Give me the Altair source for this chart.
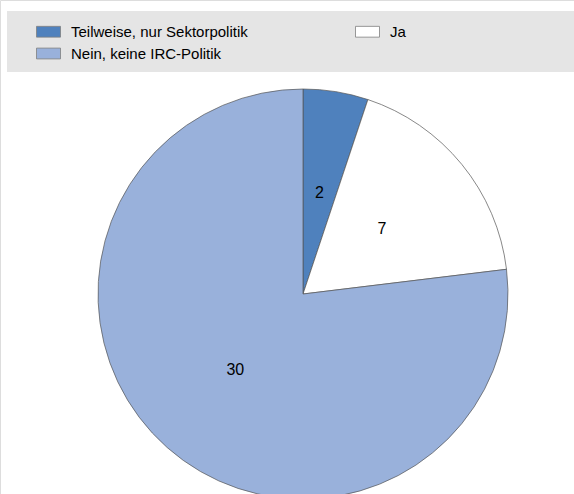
import altair as alt
import pandas as pd

categories = ["Teilweise, nur Sektorpolitik", "Ja", "Nein, keine IRC-Politik"]
values = [2, 7, 30]
colors = ["#4F81BD", "#FFFFFF", "#99B1DB"]

# legend reads in columns: first column Teilweise / Nein, second column Ja
legend_order = [categories[0], categories[2], categories[1]]
legend_colors = [colors[0], colors[2], colors[1]]

df = pd.DataFrame({"cat": categories, "val": values, "ord": list(range(len(values)))})

CX, CY, R = 303, 294, 205

color = alt.Color(
    "cat:N",
    scale=alt.Scale(domain=legend_order, range=legend_colors),
    legend=alt.Legend(
        title=None,
        orient="none",
        legendX=36,
        legendY=19,
        columns=2,
        columnPadding=105,
        rowPadding=1,
        symbolType="M-1,-0.45H1V0.45H-1Z",
        symbolSize=576,
        symbolStrokeColor="#7f7f7f",
        symbolStrokeWidth=0.8,
        labelFont="Liberation Sans",
        labelFontSize=15,
        labelColor="#000000",
        labelOffset=10,
        labelLimit=400,
    ),
)

bg = alt.Chart(df).mark_rect(color="#E5E5E5").encode(
    x=alt.value(7), x2=alt.value(574), y=alt.value(11), y2=alt.value(72)
)

arc = alt.Chart(df).mark_arc(stroke="#555555", strokeWidth=0.7).encode(
    theta=alt.Theta("val:Q", stack=True),
    order=alt.Order("ord:Q"),
    color=color,
    x=alt.value(CX),
    y=alt.value(CY),
    radius=alt.value(R),
)

text = alt.Chart(df).mark_text(
    radius=102, font="Liberation Sans", fontSize=16, color="#000000"
).encode(
    theta=alt.Theta("val:Q", stack=True),
    order=alt.Order("ord:Q"),
    text=alt.Text("val:Q"),
    x=alt.value(CX),
    y=alt.value(CY),
)

chart = alt.layer(bg, arc, text).properties(
    width=574, height=494, padding=0, autosize=alt.AutoSizeParams(type="none")
).configure_view(stroke=None).configure(background="#FFFFFF")

chart.save("out.html", embed_options={"renderer": "svg", "actions": False})
